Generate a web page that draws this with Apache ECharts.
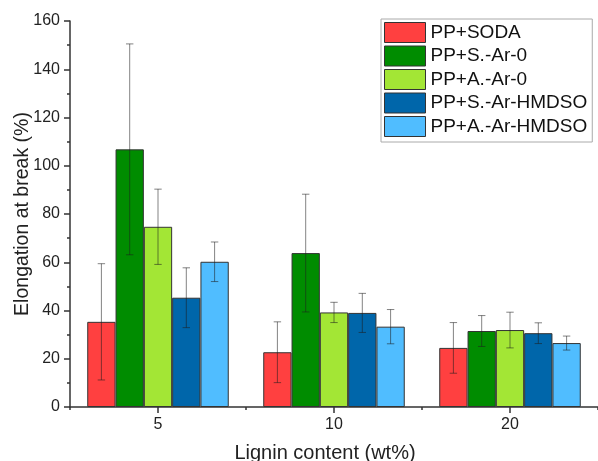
<!DOCTYPE html>
<html>
<head>
<meta charset="utf-8">
<script src="https://cdn.jsdelivr.net/npm/echarts@6/dist/echarts.min.js"></script>
<style>
html,body{margin:0;padding:0;background:#fff;}
#chart{width:598px;height:461px;}
</style>
</head>
<body>
<div id="chart"></div>
<script>
// ---- data ----
var categories = ['5', '10', '20'];
var seriesNames = ['PP+SODA', 'PP+S.-Ar-0', 'PP+A.-Ar-0', 'PP+S.-Ar-HMDSO', 'PP+A.-Ar-HMDSO'];
var soda      = [35.3, 22.7, 24.5];
var sodaErr   = [24.1, 12.6, 10.5];
var sAr0      = [106.8, 63.8, 31.5];
var sAr0Err   = [43.7, 24.4, 6.4];
var aAr0      = [74.7, 39.2, 31.9];
var aAr0Err   = [15.6, 4.2, 7.4];
var sHmdso    = [45.3, 39.0, 30.6];
var sHmdsoErr = [12.4, 8.1, 4.3];
var aHmdso    = [60.2, 33.3, 26.5];
var aHmdsoErr = [8.2, 7.1, 2.9];
var yTicks = [0, 20, 40, 60, 80, 100, 120, 140, 160];

var means = [soda, sAr0, aAr0, sHmdso, aHmdso];
var errs = [sodaErr, sAr0Err, aAr0Err, sHmdsoErr, aHmdsoErr];
var colors = ['#FF4040', '#008C00', '#A3E635', '#0066AA', '#50BDFF'];
var GAP = 0.196;
var NB = seriesNames.length;
var FONT = 'Liberation Sans, Arial, sans-serif';

var series = [];
seriesNames.forEach(function (name, i) {
  series.push({
    name: name,
    type: 'bar',
    xAxisIndex: 0,
    data: means[i],
    barGap: '0%',
    barCategoryGap: (GAP * 100) + '%',
    itemStyle: { color: colors[i], borderColor: '#333', borderWidth: 1 },
    emphasis: { disabled: true },
    z: 2
  });
});
seriesNames.forEach(function (name, i) {
  series.push({
    type: 'custom',
    xAxisIndex: 0,
    silent: true,
    z: 5,
    data: categories.map(function (c, k) { return [k, means[i][k] - errs[i][k], means[i][k] + errs[i][k]]; }),
    encode: { x: 0, y: [1, 2] },
    renderItem: function (params, api) {
      var k = api.value(0);
      var lo = api.coord([k, api.value(1)]);
      var hi = api.coord([k, api.value(2)]);
      var band = api.size([1, 0])[0];
      var bw = band * (1 - GAP) / NB;
      var x = lo[0] + (i - (NB - 1) / 2) * bw;
      var cap = 3.7;
      var st = { stroke: 'rgba(30,30,30,0.55)', lineWidth: 1, fill: null };
      return {
        type: 'group',
        children: [
          { type: 'line', shape: { x1: x, y1: lo[1], x2: x, y2: hi[1] }, style: st },
          { type: 'line', shape: { x1: x - cap, y1: lo[1], x2: x + cap, y2: lo[1] }, style: st },
          { type: 'line', shape: { x1: x - cap, y1: hi[1], x2: x + cap, y2: hi[1] }, style: st }
        ]
      };
    }
  });
});

var chart = echarts.init(document.getElementById('chart'), null, { renderer: 'canvas' });
chart.setOption({
  animation: false,
  backgroundColor: '#fff',
  textStyle: { fontFamily: FONT },
  grid: { left: 70, right: 0, top: 21, bottom: 54, containLabel: false, outerBoundsMode: 'none' },
  legend: {
    data: seriesNames,
    orient: 'vertical',
    left: 381,
    top: 19,
    padding: [3, 5, 5, 3],
    itemWidth: 41,
    itemHeight: 20,
    itemGap: 2.5,
    backgroundColor: '#fff',
    borderColor: '#aaa',
    borderWidth: 1,
    borderRadius: 0,
    icon: 'rect',
    selectedMode: false,
    textStyle: { fontFamily: FONT, fontSize: 19, color: '#111', padding: [0, 0, 0, 0], lineHeight: 20 },
    itemStyle: { borderColor: '#333', borderWidth: 1 }
  },
  xAxis: [
    {
      type: 'category',
      data: categories,
      name: 'Lignin content (wt%)',
      nameLocation: 'middle',
      nameGap: 36,
      nameMoveOverlap: false,
      nameTextStyle: { fontFamily: FONT, fontSize: 20, color: '#222', padding: [0, 18, 0, 0] },
      axisLine: { show: true, lineStyle: { color: '#333', width: 1.5 } },
      axisTick: { show: true, alignWithLabel: true, length: 6, lineStyle: { color: '#333', width: 1.5 } },
      axisLabel: { margin: 10, fontFamily: FONT, fontSize: 16, color: '#222' },
      splitLine: { show: false }
    },
    {
      type: 'category',
      data: categories,
      position: 'bottom',
      axisLine: { show: false },
      axisTick: { show: true, length: 3, lineStyle: { color: '#333', width: 1.5 } },
      axisLabel: { show: false },
      splitLine: { show: false }
    }
  ],
  yAxis: {
    type: 'value',
    min: yTicks[0],
    max: yTicks[yTicks.length - 1],
    interval: yTicks[1] - yTicks[0],
    name: 'Elongation at break (%)',
    nameLocation: 'middle',
    nameGap: 37,
    nameMoveOverlap: false,
    nameTextStyle: { fontFamily: FONT, fontSize: 19.5, color: '#222' },
    axisLine: { show: true, lineStyle: { color: '#333', width: 1.5 } },
    axisTick: { show: true, length: 6, lineStyle: { color: '#333', width: 1.5 } },
    minorTick: { show: true, splitNumber: 2, length: 3, lineStyle: { color: '#333', width: 1.5 } },
    axisLabel: { margin: 10, fontFamily: FONT, fontSize: 16, color: '#222' },
    splitLine: { show: false },
    minorSplitLine: { show: false }
  },
  series: series
});
</script>
</body>
</html>
